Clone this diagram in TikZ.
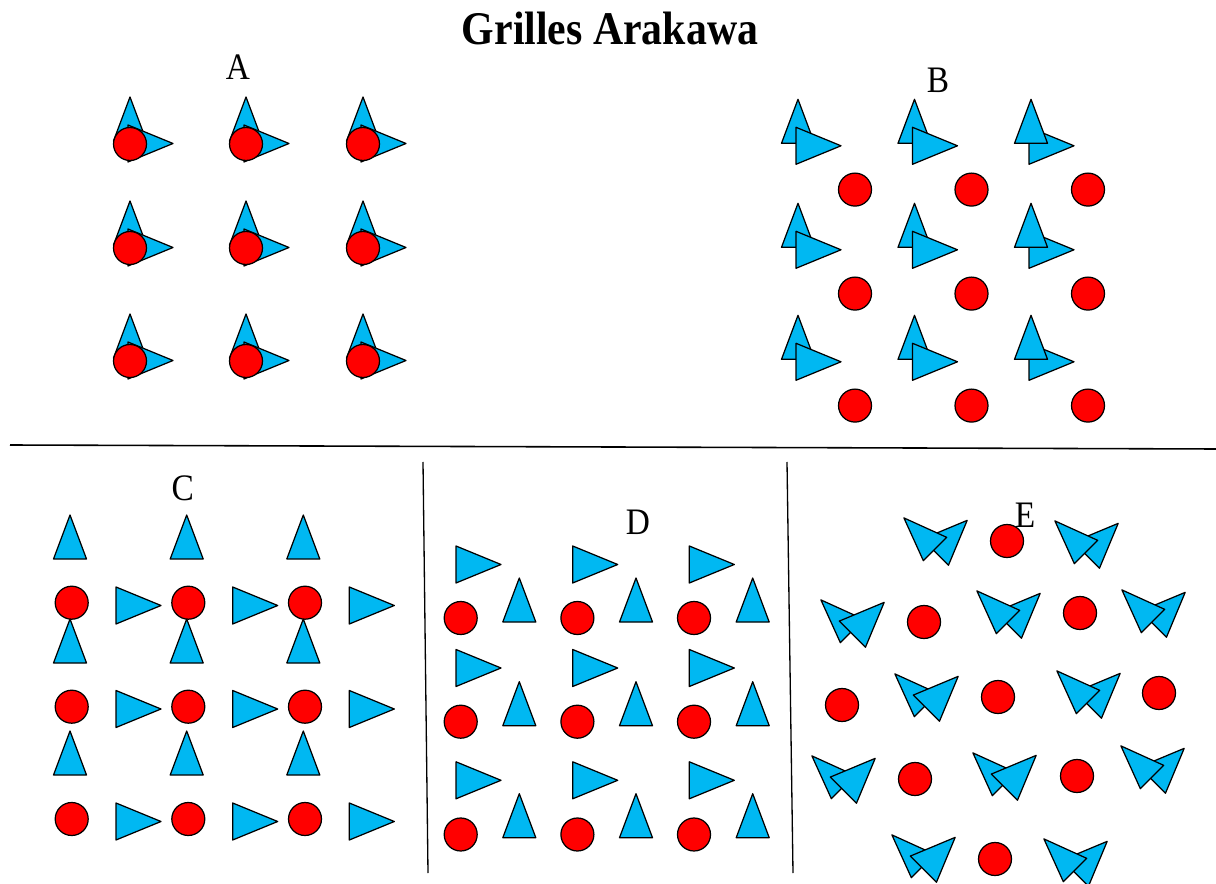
\documentclass[tikz,border=0pt]{standalone}
\usepackage{fontspec}
\setmainfont{Liberation Serif}
\usepackage{graphicx}

\definecolor{arakblue}{RGB}{0,184,242}
\definecolor{arakred}{RGB}{255,0,0}

\tikzset{
  tri/.style={draw=black, fill=arakblue, line width=0.7pt, line join=round},
  masspt/.style={circle, draw=black, fill=arakred, line width=0.7pt, inner sep=0pt, minimum size=0.66cm},
  sep/.style={draw=black, line width=0.9pt},
  gridlabel/.style={font=\fontsize{19}{22}\selectfont},
  % up triangle: base centre at the origin
  upT/.pic={\path[tri] (-16.5,0) -- (16.5,0) -- (0,-44) -- cycle;},
  % right triangle: middle of the left side at the origin
  rightT/.pic={\path[tri] (0,-18.5) -- (0,18.5) -- (45,0) -- cycle;},
  % u and v together, v on top / u on top
  pairR/.pic={
    \path[tri] (-16.5,0) -- (16.5,0) -- (0,-44) -- cycle;
    \path[tri] (-2,-16) -- (-2,21) -- (43,2.5) -- cycle;},
  pairU/.pic={
    \path[tri] (-2,-16) -- (-2,21) -- (43,2.5) -- cycle;
    \path[tri] (-16.5,0) -- (16.5,0) -- (0,-44) -- cycle;},
}

\begin{document}
\begin{tikzpicture}[x=0.02cm, y=-0.02cm]
  \useasboundingbox (0,0) rectangle (1216,884);

  % Title
  \node[font=\bfseries\fontsize{23.8}{26}\selectfont] (title) at (610,28) {\scalebox{1}[1.12]{Grilles Arakawa}};

  % Grid labels
  \node[gridlabel] (labA) at (238,67) {\scalebox{1}[1.12]{A}};
  \node[gridlabel] (labB) at (938,80) {\scalebox{1}[1.12]{B}};
  \node[gridlabel] (labC) at (182.7,488) {\scalebox{1}[1.12]{C}};
  \node[gridlabel] (labD) at (638,522) {\scalebox{1}[1.12]{D}};

  % Separators
  \coordinate (hl) at (10,445);
  \coordinate (hr) at (1216,449);
  \coordinate (v1t) at (423,462);
  \coordinate (v1b) at (428,873);
  \coordinate (v2t) at (787,462);
  \coordinate (v2b) at (793,873);
  \draw[sep] (hl) -- (hr);
  \draw[sep, line width=0.75pt] (v1t) -- (v1b);
  \draw[sep, line width=0.75pt] (v2t) -- (v2b);

  % Grid A
  \foreach \x [count=\i] in {130,246,363}
    \foreach \y [count=\j] in {141,245,358} {
      \pic at (\x,\y) {pairR};
      \node[masspt] (A-\i-\j) at (\x,\y+3) {};
    }

  % Grid B
  \foreach \y [count=\j] in {143.3,247.3,359.3} {
    \pic at (798,\y) {pairR};
    \pic at (914.5,\y) {pairR};
    \pic at (1031,\y) {pairU};
    \foreach \x [count=\i] in {855,971.5,1088}
      \node[masspt] (B-\i-\j) at (\x,\y+46.3) {};
  }

  % Grid C
  \foreach \x in {70,186.7,303.3}
    \foreach \y in {559,663,775}
      \pic at (\x,\y) {upT};
  \foreach \x in {116,232.7,349.3}
    \foreach \y in {605.5,709,821.5}
      \pic at (\x,\y) {rightT};
  \foreach \x [count=\i] in {71.7,188.3,305}
    \foreach \y [count=\j] in {602.7,706.7,819}
      \node[masspt] (C-\i-\j) at (\x,\y) {};

  % Grid D
  \foreach \x in {456,572.7,689.3}
    \foreach \y in {564.5,668,780.3}
      \pic at (\x,\y) {rightT};
  \foreach \x in {519.3,636,752.7}
    \foreach \y in {622,725.7,837.7}
      \pic at (\x,\y) {upT};
  \foreach \x [count=\i] in {460.7,577.4,694}
    \foreach \y [count=\j] in {618,721.7,834.5}
      \node[masspt] (D-\i-\j) at (\x,\y) {};

  % Grid E
  \foreach \x/\y in {935/549, 1086/552, 1008/622, 1153/621, 1088/702, 1152/777, 1075/870}
    \pic[rotate=45] at (\x,\y) {pairU};
  \foreach \x/\y in {852/631, 926/705, 843/787, 1004/784, 923/866}
    \pic[rotate=45] at (\x,\y) {pairR};
  \foreach \x/\y [count=\i] in {1007/541, 924/622, 1080/613, 842/705, 998/697, 1159/693, 915/779, 1077/776, 995/859}
    \node[masspt] (E-\i) at (\x,\y) {};
  \node[gridlabel] (labE) at (1025,515) {\scalebox{1}[1.12]{E}};
\end{tikzpicture}
\end{document}
